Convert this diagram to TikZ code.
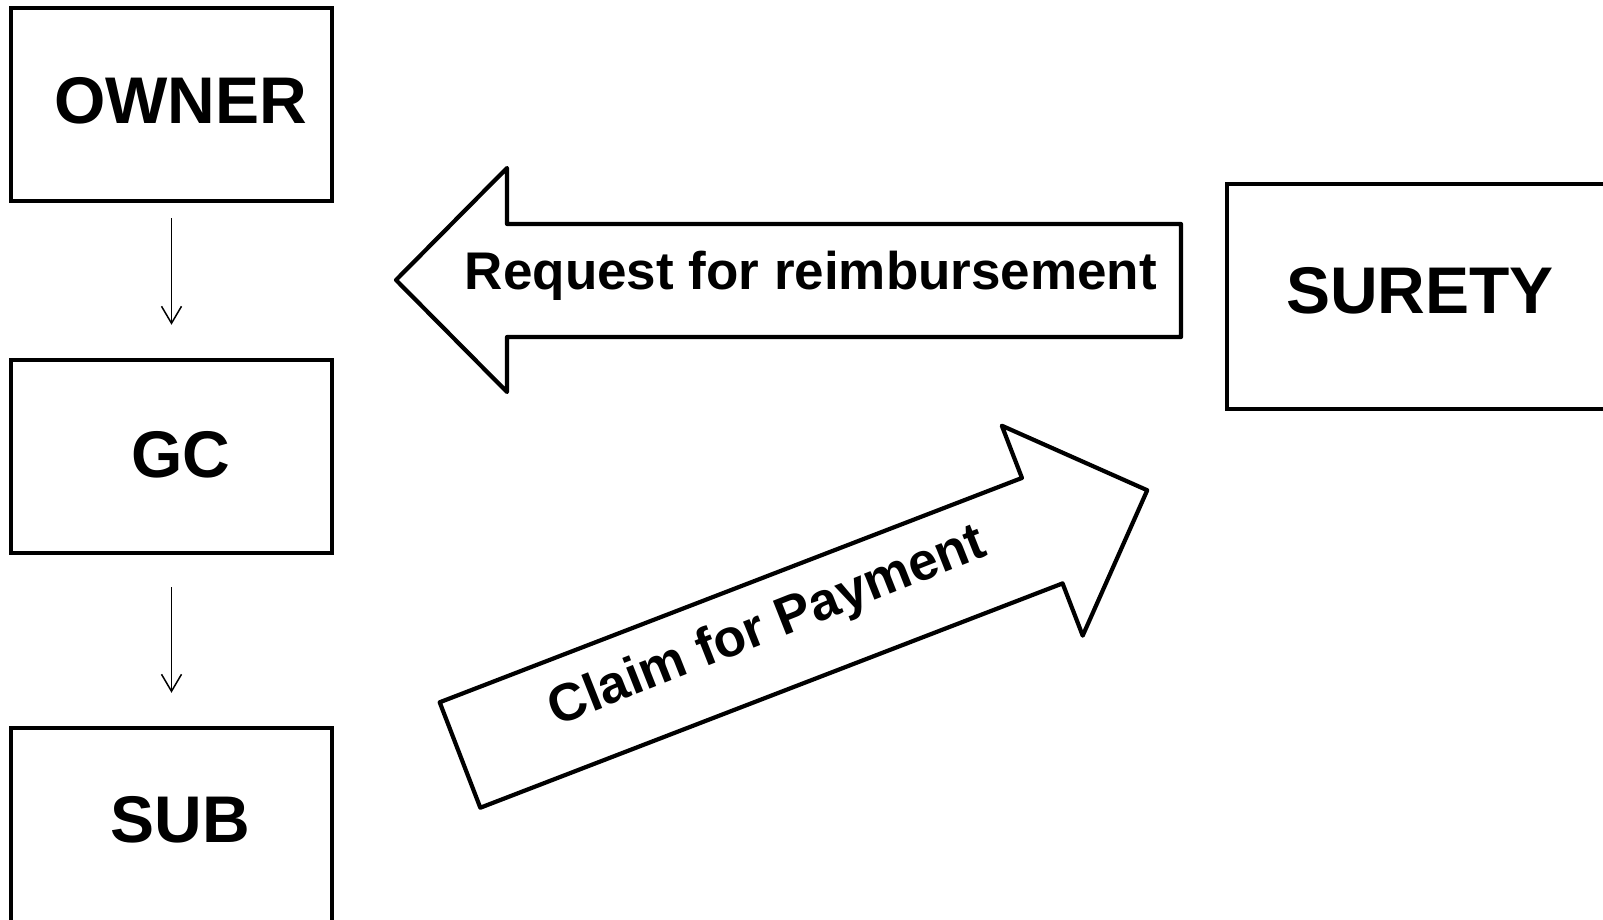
\documentclass[tikz,border=0pt]{standalone}
\usepackage{fontspec}
\setmainfont{Liberation Sans}
\usetikzlibrary{arrows.meta}
\tikzset{
  party/.style={draw, line width=4.5pt, inner sep=0pt, minimum width=321pt,
    minimum height=193pt},
  partytext/.style={font=\fontsize{66}{66}\selectfont\bfseries, inner sep=0pt,
    xshift=9pt},
  flow/.style={-{Straight Barb[length=17pt,width=20pt]}, line width=1.5pt},
  bigarrow/.style={draw, line width=4.2pt, line join=round},
  arrowtext/.style={font=\fontsize{53}{53}\selectfont\bfseries, inner sep=0pt}
}
\begin{document}
\begin{tikzpicture}[x=1pt,y=-1pt]
  \useasboundingbox (0,0) rectangle (1603,920);
  \path
  (171.5,104.5) node[party, label={[partytext, yshift=4pt]center:OWNER}] (OWNER) {}
  (171.5,456.5) node[party, label={[partytext, yshift=2pt]center:GC}] (GC) {}
  (171.5,828) node[party, minimum height=200pt,
    label={[partytext, yshift=8pt]center:SUB}] (SUB) {}
  (1420,296.5) node[party, minimum width=386pt, minimum height=225pt,
    label={[partytext, xshift=-9pt, yshift=6pt]center:SURETY}] (SURETY) {};

  \draw[flow, shorten <=15pt, shorten >=33pt] (OWNER) -- (GC);
  \draw[flow, shorten <=32pt, shorten >=33pt] (GC) -- (SUB);

  % block arrow towards the owner side
  \draw[bigarrow] (396,280) -- (507,168) -- (507,224) -- (1181,224)
    -- (1181,337) -- (507,337) -- (507,392) -- cycle;
  \node[arrowtext] (REQ) at (811,276) {Request for reimbursement};

  % block arrow towards the surety
  \begin{scope}[shift={(460,755)}, rotate=21.07]
    \draw[bigarrow] (0,-56.5) -- (624,-56.5) -- (624,-112.5) -- (736.5,0)
      -- (624,112.5) -- (624,56.5) -- (0,56.5) -- cycle;
    \node[arrowtext, rotate=21.6] (CLAIM) at (333,-8) {Claim for Payment};
  \end{scope}
\end{tikzpicture}
\end{document}
